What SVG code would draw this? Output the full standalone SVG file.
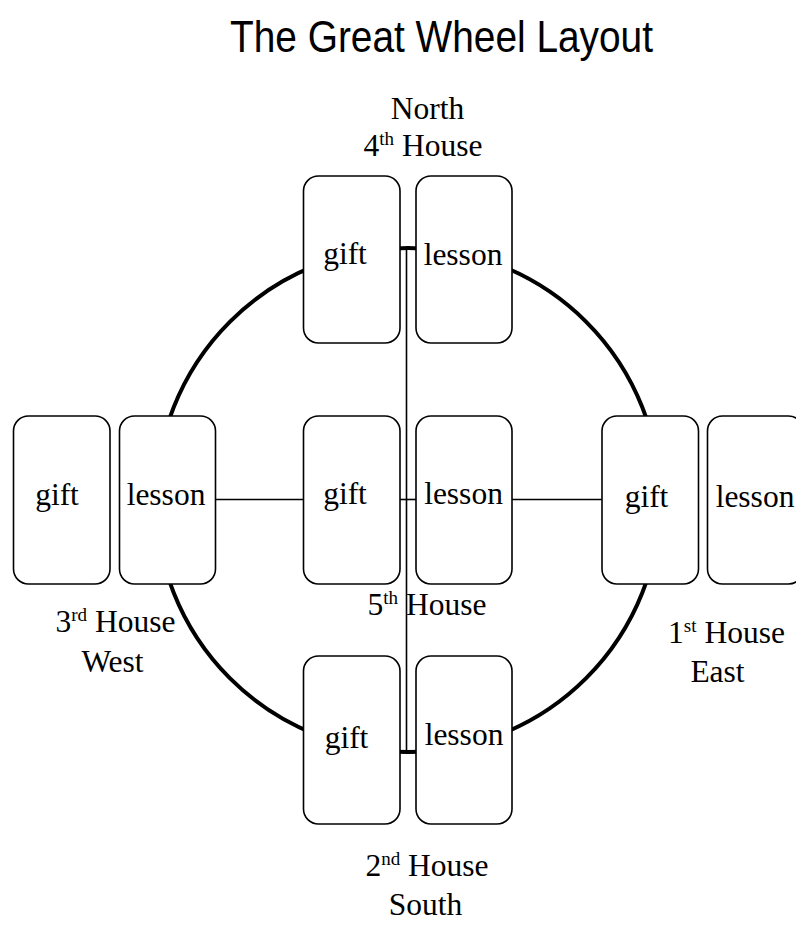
<svg xmlns="http://www.w3.org/2000/svg" width="796" height="925" viewBox="0 0 796 925">
<style>
.card{fill:#fff;stroke:#000;stroke-width:1.6}
.t{font-family:"Liberation Serif","Times New Roman",serif;font-size:31.5px;fill:#000;text-anchor:middle}
.sup{font-size:19px}
.conn{stroke:#000;stroke-width:1.6;fill:none}
.title{font-family:"Liberation Sans",Arial,sans-serif;font-size:44px;fill:#000}
</style>
<rect width="796" height="925" fill="#fff"/>
<text class="title" x="230" y="52" textLength="423" lengthAdjust="spacingAndGlyphs">The Great Wheel Layout</text>
<g id="connectors">
<circle cx="408" cy="500" r="252" fill="none" stroke="#000" stroke-width="4"/>
<line class="conn" x1="406.5" y1="247" x2="406.5" y2="752"/>
<line class="conn" x1="216" y1="499.5" x2="303" y2="499.5"/>
<line class="conn" x1="400" y1="499.5" x2="416" y2="499.5"/>
<line class="conn" x1="512" y1="499.5" x2="602" y2="499.5"/>
</g>
<g id="north-gift"><rect class="card" x="303.5" y="176" width="96.5" height="167" rx="15"/><text class="t" x="345" y="264">gift</text></g>
<g id="north-lesson"><rect class="card" x="416" y="176" width="96" height="167" rx="15"/><text class="t" x="463" y="265">lesson</text></g>
<g id="center-gift"><rect class="card" x="303.5" y="416" width="96.5" height="168" rx="15"/><text class="t" x="345" y="504">gift</text></g>
<g id="center-lesson"><rect class="card" x="416" y="416" width="96" height="168" rx="15"/><text class="t" x="463.5" y="504">lesson</text></g>
<g id="south-gift"><rect class="card" x="303.5" y="656" width="96.5" height="168" rx="15"/><text class="t" x="346.5" y="748">gift</text></g>
<g id="south-lesson"><rect class="card" x="416" y="656" width="96" height="168" rx="15"/><text class="t" x="464" y="745">lesson</text></g>
<g id="west-gift"><rect class="card" x="13.5" y="416" width="96.5" height="168" rx="15"/><text class="t" x="57" y="505">gift</text></g>
<g id="west-lesson"><rect class="card" x="119.5" y="416" width="96" height="168" rx="15"/><text class="t" x="166" y="505">lesson</text></g>
<g id="east-gift"><rect class="card" x="602" y="416" width="96.5" height="168" rx="15"/><text class="t" x="646.5" y="507">gift</text></g>
<g id="east-lesson"><rect class="card" x="707.5" y="416" width="96" height="168" rx="15"/><text class="t" x="755" y="507">lesson</text></g>
<g id="labels">
<text class="t" x="427.5" y="119">North</text>
<text class="t" x="423" y="156">4<tspan class="sup" dy="-11">th</tspan><tspan dy="11"> House</tspan></text>
<text class="t" x="427" y="615">5<tspan class="sup" dy="-11">th</tspan><tspan dy="11"> House</tspan></text>
<text class="t" x="115.5" y="632">3<tspan class="sup" dy="-11">rd</tspan><tspan dy="11"> House</tspan></text>
<text class="t" x="112.5" y="672">West</text>
<text class="t" x="726.5" y="643">1<tspan class="sup" dy="-11">st</tspan><tspan dy="11"> House</tspan></text>
<text class="t" x="717.5" y="682">East</text>
<text class="t" x="427" y="876">2<tspan class="sup" dy="-11">nd</tspan><tspan dy="11"> House</tspan></text>
<text class="t" x="425.5" y="915">South</text>
</g>
</svg>
